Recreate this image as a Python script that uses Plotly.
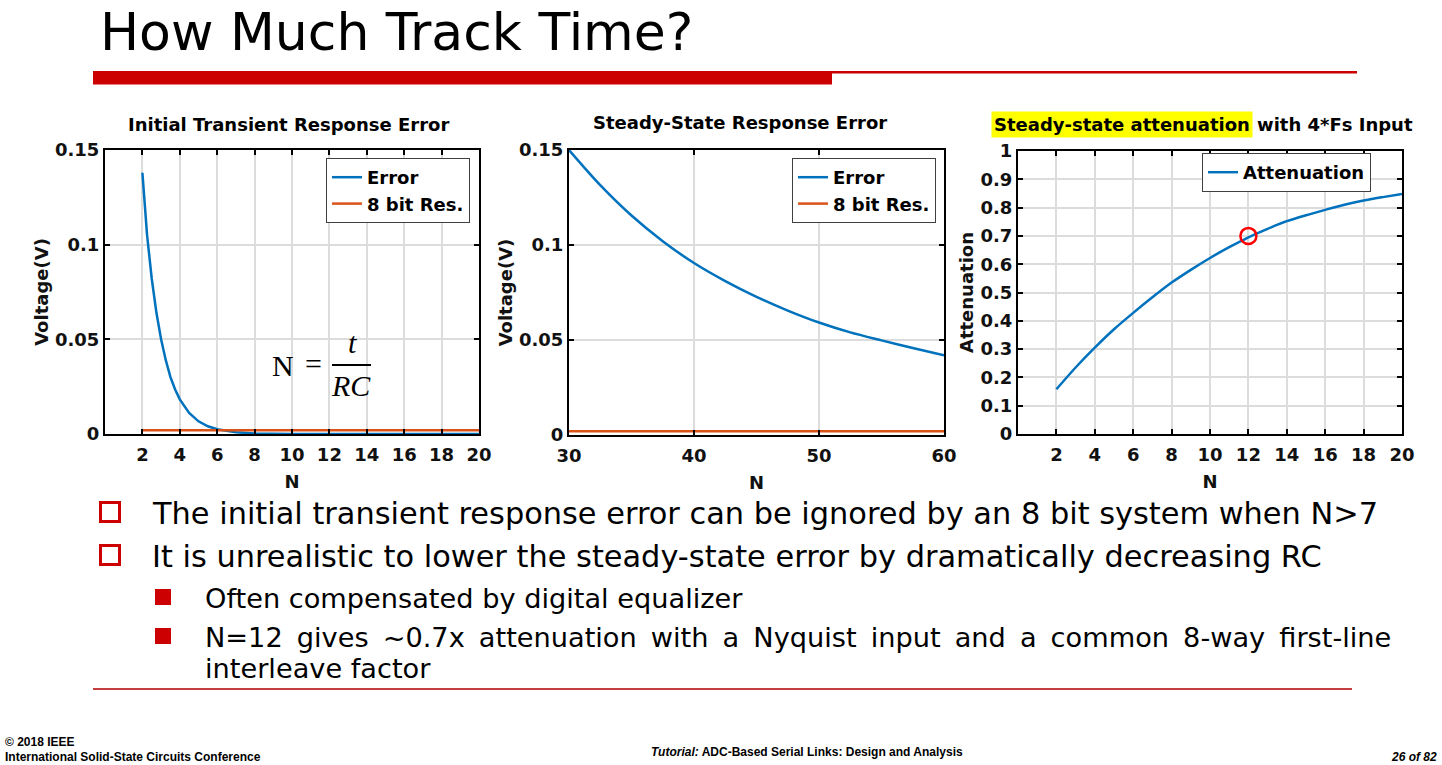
import plotly.graph_objects as go

W, H = 1442, 765

# ---------------- data ----------------
n_trans = [2, 2.25, 2.5, 2.75, 3, 3.25, 3.5, 3.75, 4, 4.5, 5, 5.5, 6, 6.5, 7, 8, 9, 10, 12, 14, 16, 18, 20]
err_trans = [0.138, 0.105, 0.082, 0.064, 0.050, 0.039, 0.030, 0.0235, 0.0183, 0.0111, 0.0067, 0.0041,
             0.0025, 0.0015, 0.0009, 0.0003, 0.0001, 0.00005, 0, 0, 0, 0, 0]
n_res1 = [2, 20]

n_ss = [30, 32.5, 35, 37.5, 40, 42.5, 45, 47.5, 50, 52.5, 55, 57.5, 60]
err_ss = [0.150, 0.1315, 0.1155, 0.1020, 0.0905, 0.0810, 0.0727, 0.0655, 0.0592, 0.0540, 0.0498, 0.0458, 0.0420]
n_res2 = [30, 60]

res_8bit = 0.002

n_att = [2, 3, 4, 5, 6, 7, 8, 9, 10, 11, 12, 13, 14, 15, 16, 17, 18, 19, 20]
att = [0.158, 0.235, 0.305, 0.37, 0.428, 0.483, 0.535, 0.58, 0.622, 0.66, 0.695, 0.725, 0.752,
       0.773, 0.792, 0.81, 0.825, 0.837, 0.848]
mark_n = [12]
mark_att = [0.70]

x_ticks_small = [2, 4, 6, 8, 10, 12, 14, 16, 18, 20]
x_ticks_ss = [30, 40, 50, 60]
y_ticks_v = [0, 0.05, 0.1, 0.15]
y_ticktext_v = ["0", "0.05", "0.1", "0.15"]
y_ticks_att = [0, 0.1, 0.2, 0.3, 0.4, 0.5, 0.6, 0.7, 0.8, 0.9, 1]
y_ticktext_att = ["0", "0.1", "0.2", "0.3", "0.4", "0.5", "0.6", "0.7", "0.8", "0.9", "1"]

BLUE = "#0072BD"
ORANGE = "#D95319"
RED = "#CC0000"


def px(x):
    return x / W


def py(y):
    return 1 - y / H


fig = go.Figure()

fig.add_trace(go.Scatter(x=n_trans, y=err_trans, mode="lines", name="Error",
                         line=dict(color=BLUE, width=2.5), xaxis="x", yaxis="y", legend="legend"))
fig.add_trace(go.Scatter(x=n_res1, y=[res_8bit] * len(n_res1), mode="lines", name="8 bit Res.",
                         line=dict(color=ORANGE, width=2.5), xaxis="x", yaxis="y", legend="legend"))
fig.add_trace(go.Scatter(x=n_ss, y=err_ss, mode="lines", name="Error",
                         line=dict(color=BLUE, width=2.5, shape="spline", smoothing=0.8),
                         xaxis="x2", yaxis="y2", legend="legend2"))
fig.add_trace(go.Scatter(x=n_res2, y=[res_8bit] * len(n_res2), mode="lines", name="8 bit Res.",
                         line=dict(color=ORANGE, width=2.5), xaxis="x2", yaxis="y2", legend="legend2"))
fig.add_trace(go.Scatter(x=n_att, y=att, mode="lines", name="Attenuation",
                         line=dict(color=BLUE, width=2.5, shape="spline", smoothing=0.8),
                         xaxis="x3", yaxis="y3", legend="legend3"))
fig.add_trace(go.Scatter(x=mark_n, y=mark_att, mode="markers", showlegend=False,
                         marker=dict(symbol="circle-open", size=16, color="red", line=dict(width=2.5, color="red")),
                         xaxis="x3", yaxis="y3"))

BOLDFAM = "DejaVu Sans, Verdana, sans-serif"
tickfont = dict(family=BOLDFAM, size=18, color="#111111", weight="bold")
titlefont = dict(family=BOLDFAM, size=18, color="#111111", weight="bold")

axis_common = dict(showline=True, linecolor="black", linewidth=2, mirror="allticks",
                   ticks="inside", ticklen=5, tickwidth=1.5, tickcolor="black",
                   showgrid=True, gridcolor="#dcdcdc", gridwidth=1.5, zeroline=False,
                   tickfont=tickfont, automargin=False)

fig.update_layout(
    width=W, height=H, margin=dict(l=0, r=0, t=0, b=0, autoexpand=False),
    paper_bgcolor="white", plot_bgcolor="white",
    xaxis=dict(domain=[px(105), px(479)], range=[0, 20], tickvals=x_ticks_small, anchor="y",
               title=dict(text="N", font=titlefont, standoff=12), ticklabelstandoff=3, **axis_common),
    yaxis=dict(domain=[py(434), py(150)], range=[0, 0.15], tickvals=y_ticks_v, ticktext=y_ticktext_v,
               anchor="x", title=dict(text="Voltage(V)", font=titlefont, standoff=2), **axis_common),
    xaxis2=dict(domain=[px(569), px(944)], range=[30, 60], tickvals=x_ticks_ss, anchor="y2",
                title=dict(text="N", font=titlefont, standoff=12), ticklabelstandoff=3, **axis_common),
    yaxis2=dict(domain=[py(435), py(150)], range=[0, 0.15], tickvals=y_ticks_v, ticktext=y_ticktext_v,
                anchor="x2", title=dict(text="Voltage(V)", font=titlefont, standoff=2), **axis_common),
    xaxis3=dict(domain=[px(1018), px(1402)], range=[0, 20], tickvals=x_ticks_small, anchor="y3",
                title=dict(text="N", font=titlefont, standoff=12), ticklabelstandoff=3, **axis_common),
    yaxis3=dict(domain=[py(434), py(151)], range=[0, 1], tickvals=y_ticks_att, ticktext=y_ticktext_att,
                anchor="x3", title=dict(text="Attenuation", font=titlefont, standoff=2), **axis_common),
)

legend_common = dict(xanchor="right", yanchor="top", bgcolor="white", bordercolor="#404040", borderwidth=1,
                     font=dict(family=BOLDFAM, size=18, color="black", weight="bold"),
                     itemwidth=30, tracegroupgap=0)
fig.update_layout(
    legend=dict(x=px(470), y=py(158), **legend_common),
    legend2=dict(x=px(936), y=py(158), **legend_common),
    legend3=dict(x=px(1371), y=py(153), **legend_common),
)

shapes = []
# title bar
shapes.append(dict(type="rect", xref="paper", yref="paper", x0=px(93), x1=px(832), y0=py(84.5), y1=py(71),
                   fillcolor=RED, line=dict(width=0)))
shapes.append(dict(type="rect", xref="paper", yref="paper", x0=px(832), x1=px(1357), y0=py(73.5), y1=py(71),
                   fillcolor=RED, line=dict(width=0)))
# bottom line
shapes.append(dict(type="line", xref="paper", yref="paper", x0=px(93), x1=px(1352), y0=py(689), y1=py(689),
                   line=dict(color="#B00000", width=1.5)))
# hollow bullets
for yc in [512, 555]:
    shapes.append(dict(type="rect", xref="paper", yref="paper", x0=px(100.5), x1=px(119.5),
                       y0=py(yc + 9.5), y1=py(yc - 9.5), line=dict(color=RED, width=3), fillcolor="rgba(0,0,0,0)"))
# filled bullets
for yc in [597, 636]:
    shapes.append(dict(type="rect", xref="paper", yref="paper", x0=px(155), x1=px(171),
                       y0=py(yc + 8), y1=py(yc - 8), line=dict(width=0), fillcolor=RED))
# formula fraction bar
shapes.append(dict(type="line", xref="paper", yref="paper", x0=px(332), x1=px(371), y0=py(365), y1=py(365),
                   line=dict(color="black", width=2)))
fig.update_layout(shapes=shapes)

ann = []


def text(x, y, s, size, family="DejaVu Sans, Verdana, sans-serif", xanchor="left", color="black",
         weight="normal", style="normal", bgcolor=None):
    d = dict(x=px(x), y=py(y), xref="paper", yref="paper", text=s, showarrow=False,
             xanchor=xanchor, yanchor="middle",
             font=dict(family=family, size=size, color=color, weight=weight, style=style))
    if bgcolor:
        d["bgcolor"] = bgcolor
        d["borderpad"] = 2
    ann.append(d)


text(98, 32, "How Much Track Time?", 52)

# chart titles
text(288, 125, "Initial Transient Response Error", 18, weight="bold", xanchor="center")
text(740, 123, "Steady-State Response Error", 18, weight="bold", xanchor="center")
text(991, 125, "Steady-state attenuation", 18, weight="bold", bgcolor="#FFFF00")
text(1255, 125, "with 4*Fs Input", 18, weight="bold")

# formula
serif = "Liberation Serif, Times New Roman, serif"
text(283, 365, "N", 30, family=serif, xanchor="center")
text(313, 363, "=", 30, family=serif, xanchor="center")
text(352, 343, "t", 30, family=serif, xanchor="center", style="italic")
text(351, 385, "RC", 30, family=serif, xanchor="center", style="italic")

# bullets
text(150, 513, "The initial transient response error can be ignored by an 8 bit system when N>7", 30.4)
text(150, 556, "It is unrealistic to lower the steady-state error by dramatically decreasing RC", 30.4)
text(203, 598, "Often compensated by digital equalizer", 27.2)
sub2 = "N=12 gives ~0.7x attenuation with a Nyquist input and a common 8-way first-line"
text(203, 637, sub2.replace(" ", " \u2009"), 27.2)
text(203, 668, "interleave factor", 27.2)

# footer
narrow = "Liberation Sans Narrow, Arial Narrow, Liberation Sans, sans-serif"
text(3, 742, "© 2018 IEEE", 12, family=narrow, weight="bold")
text(3, 757, "International Solid-State Circuits Conference", 12, family=narrow, weight="bold")
text(807, 752, "<i>Tutorial:</i> ADC-Based Serial Links: Design and Analysis", 12, family=narrow,
     weight="bold", xanchor="center")
text(1439, 757, "<i>26 of 82</i>", 12, family=narrow, weight="bold", xanchor="right")

fig.update_layout(annotations=ann)

fig.write_html("out.html", config={"displayModeBar": False},
               post_script="document.body.style.margin='0';document.body.style.overflow='hidden';")
